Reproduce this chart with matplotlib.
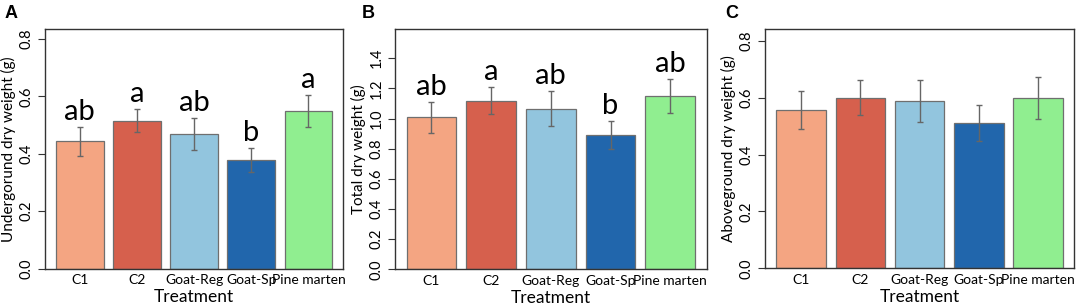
import matplotlib
matplotlib.use("Agg")
import matplotlib.pyplot as plt

categories = ["C1", "C2", "Goat-Reg", "Goat-Sp", "Pine marten"]
bar_colors = ["#F4A582", "#D6604D", "#92C5DE", "#2166AC", "#90EE90"]

under_mean = [0.443, 0.515, 0.469, 0.378, 0.549]
under_se = [0.050, 0.040, 0.056, 0.042, 0.056]
under_letters = ["ab", "a", "ab", "b", "a"]

total_mean = [1.009, 1.119, 1.064, 0.893, 1.148]
total_se = [0.104, 0.091, 0.116, 0.093, 0.112]
total_letters = ["ab", "a", "ab", "b", "ab"]

above_mean = [0.557, 0.600, 0.588, 0.511, 0.599]
above_se = [0.068, 0.062, 0.074, 0.063, 0.073]
above_letters = ["", "", "", "", ""]

W, H = 1084, 307
plt.rcParams['font.family'] = ['Lato', 'DejaVu Sans']

fig = plt.figure(figsize=(W / 100, H / 100), dpi=100)

panels = [
    dict(box=(45, 343.3, 29.3, 268.5), mean=under_mean, se=under_se, letters=under_letters,
         ymax=0.834, yticks=[0.0, 0.2, 0.4, 0.6, 0.8], ylabel="Undergorund dry weight (g)", tag="A", tagx=5),
    dict(box=(395, 706.7, 29.3, 269.3), mean=total_mean, se=total_se, letters=total_letters,
         ymax=1.592, yticks=[0.0, 0.2, 0.4, 0.6, 0.8, 1.0, 1.2, 1.4], ylabel="Total dry weight (g)", tag="B", tagx=362),
    dict(box=(765, 1074.3, 29.0, 268.3), mean=above_mean, se=above_se, letters=above_letters,
         ymax=0.842, yticks=[0.0, 0.2, 0.4, 0.6, 0.8], ylabel="Aboveground dry weight (g)", tag="C", tagx=725),
]

for p in panels:
    l, r, t, b = p["box"]
    ax = fig.add_axes([l / W, 1 - b / H, (r - l) / W, (b - t) / H])
    x = list(range(len(categories)))
    ax.bar(x, p["mean"], width=0.833, color=bar_colors, edgecolor="#6f6f6f", linewidth=0.9, zorder=2)
    ax.errorbar(x, p["mean"], yerr=p["se"], fmt="none", ecolor="#666666", elinewidth=1.0,
                capsize=2.5, capthick=1.0, zorder=3)
    for xi, m, s, lab in zip(x, p["mean"], p["se"], p["letters"]):
        if lab:
            ax.annotate(lab, (xi, m + s), xytext=(0, 5), textcoords="offset points",
                        ha="center", va="baseline", fontsize=21, color="black")
    ax.set_xlim(-0.61, 4.61)
    ax.set_ylim(0, p["ymax"])
    ax.set_yticks(p["yticks"])
    ax.set_yticklabels([f"{v:.1f}" for v in p["yticks"]], rotation=90, va="center", fontsize=10.5)
    ax.set_xticks(x)
    ax.set_xticklabels(categories, fontsize=10)
    ax.tick_params(axis="x", length=0, pad=4)
    ax.tick_params(axis="y", length=5, width=0.8, color="#333333", pad=3)
    for sp in ax.spines.values():
        sp.set_color("#333333")
        sp.set_linewidth(1.0)
    ax.set_xlabel("Treatment", fontsize=12.5, labelpad=2)
    ax.set_ylabel(p["ylabel"], fontsize=11, labelpad=3)
    fig.text(p["tagx"] / W, 1 - 18 / H, p["tag"], fontsize=13, fontweight="bold",
             family="Liberation Sans", ha="left", va="baseline")

fig.savefig("out.png", dpi=100)
